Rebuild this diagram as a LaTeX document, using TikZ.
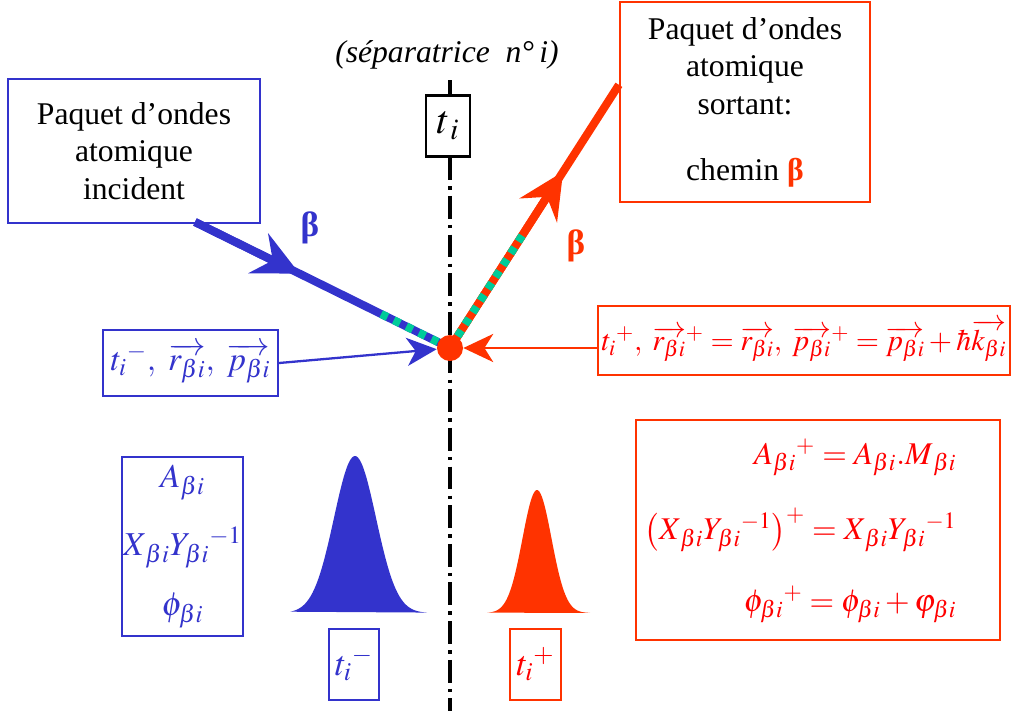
\documentclass[tikz,border=0pt]{standalone}
\usepackage{amsmath}
\usepackage{mathptmx}
\usepackage{fontspec}
\setmainfont{Liberation Serif}
\usetikzlibrary{arrows.meta,positioning,calc}
\definecolor{Blu}{HTML}{3333CC}
\definecolor{Org}{HTML}{FF3300}
\definecolor{Rd}{HTML}{FF0000}
\definecolor{Teal}{HTML}{00CC99}
\newcommand{\bi}{\beta i}
\newcommand{\vecb}[1]{\overrightarrow{#1_{\bi}}}

\begin{document}
\begin{tikzpicture}[x=0.02cm,y=-0.02cm,font=\fontsize{18}{21.5}\selectfont,every node/.style={align=center},
  bluebox/.style={draw=Blu,line width=1.3pt,fill=white},
  redbox/.style={draw=Org,line width=1.3pt,fill=white},
  beam/.style={line width=4.6pt},
  bigtip/.style={-{Stealth[length=26pt,width=25pt,inset=9pt]}},
  thintip/.style={-{Stealth[length=17pt,width=16pt,inset=5pt]}},
  mathbig/.style={font=\fontsize{20}{24}\selectfont}]
  \useasboundingbox (0,0) rectangle (1015,711);
  % separatrix
  \draw[line width=2pt,dash pattern=on 13pt off 3.5pt on 2pt off 3.5pt] (450,80) -- (450,711);
  \node[font=\fontsize{18}{21.5}\selectfont\itshape] (sep) at (447,55) {(séparatrice~~n°\,i)};
  \node[draw,line width=1.2pt,fill=white,minimum width=0.88cm,minimum height=1.22cm,font=\fontsize{23}{26}\selectfont] (ti) at (448,126) {$t_{\,i}$};
  % wave packets
  \node[bluebox,minimum width=5.04cm,minimum height=2.88cm] (inc) at (134,151) {Paquet d’ondes\\atomique\\incident};
  \node[redbox,minimum width=5cm,minimum height=4cm] (out) at (745,102) {Paquet d’ondes\\atomique\\sortant:\\[5.5mm]chemin {\color{Org}\bfseries β}};
  \coordinate (hit) at (450,348);
  % incoming beam
  \coordinate (bin) at (195,222);
  \coordinate (bmid) at ($(bin)!0.41!(hit)$);
  \coordinate (bdash) at ($(bin)!0.73!(hit)$);
  \draw[beam,Blu] (bin) -- (hit);
  \draw[beam,Blu,bigtip] (bin) -- (bmid);
  \draw[beam,Teal,dash pattern=on 4pt off 4pt] (bdash) -- (hit);
  \node[text=Blu,font=\fontsize{20}{24}\selectfont\bfseries] (bb) at (310,228) {β};
  % outgoing beam
  \coordinate (rout) at ($(out.north west)!0.415!(out.south west)$);
  \coordinate (rmid) at ($(hit)!0.67!(rout)$);
  \coordinate (rdash) at ($(hit)!0.43!(rout)$);
  \draw[beam,Org] (hit) -- (rout);
  \draw[beam,Org,bigtip] (hit) -- (rmid);
  \draw[beam,Teal,dash pattern=on 4pt off 4pt] (hit) -- (rdash);
  \node[text=Org,font=\fontsize{20}{24}\selectfont\bfseries] (rb) at (576,246) {β};
  \node[circle,fill=Org,minimum size=0.52cm,inner sep=0pt] (dot) at (hit) {};
  % states at t_i
  \node[bluebox,text=Blu,font=\fontsize{19}{23}\selectfont,inner xsep=2pt,minimum width=3.5cm,minimum height=1.32cm] (lstate) at (190.5,363)
    {$t_i{}^{-},\ \vecb{r},\ \vecb{p}$};
  \node[redbox,text=Rd,font=\fontsize{17}{21}\selectfont,inner xsep=1pt,minimum width=8.24cm,minimum height=1.38cm] (rstate) at (804,340.5)
    {$t_i{}^{+},\;\vecb{r}{}^{+} = \vecb{r},\;\vecb{p}{}^{+} = \vecb{p}+\hbar\vecb{k}$};
  \draw[Blu,line width=1.3pt,thintip] (lstate.east) -- (dot);
  \draw[Org,line width=1.3pt,thintip] (rstate.west |- dot) -- (dot);
  % amplitudes
  \node[bluebox,text=Blu,font=\fontsize{19}{23}\selectfont,inner xsep=0pt,minimum width=2.42cm,minimum height=3.58cm] (lamp) at (182.5,546.5)
    {$A_{\bi}$\\[5mm]$X_{\,\bi}Y_{\bi}{}^{-1}$\\[4mm]$\phi_{\bi}$};
  \node[redbox,text=Rd,font=\fontsize{18}{22}\selectfont,inner xsep=0pt,minimum width=7.28cm,minimum height=4.4cm] (ramp) at (818,530)
    {\begin{tabular}{@{\hspace{0.15cm}}r@{\hspace{0.85cm}}}
     $A_{\bi}{}^{+} = A_{\bi}.M_{\,\bi}$\\[6.5mm]
     $\left(X_{\,\bi}Y_{\bi}{}^{-1}\right)^{+} = X_{\,\bi}Y_{\bi}{}^{-1}$\\[6.5mm]
     $\phi_{\bi}{}^{+} = \phi_{\bi}+\varphi_{\bi}$
     \end{tabular}};
  % gaussians
  \fill[Blu] plot[domain=290:427,samples=80,smooth] (\x,{613-157*exp(-((\x-355)/21)^2/2)}) -- cycle;
  \fill[Org] plot[domain=487:590,samples=80,smooth] (\x,{613-123*exp(-((\x-537)/14.5)^2/2)}) -- cycle;
  \node[bluebox,text=Blu,mathbig,minimum width=0.92cm,minimum height=1.42cm] (tm) at (354,664.5) {$t_i{}^{-}$};
  \node[redbox,text=Rd,mathbig,minimum width=1.02cm,minimum height=1.42cm] (tp) at (535.5,664.5) {$t_i{}^{+}$};
\end{tikzpicture}
\end{document}
